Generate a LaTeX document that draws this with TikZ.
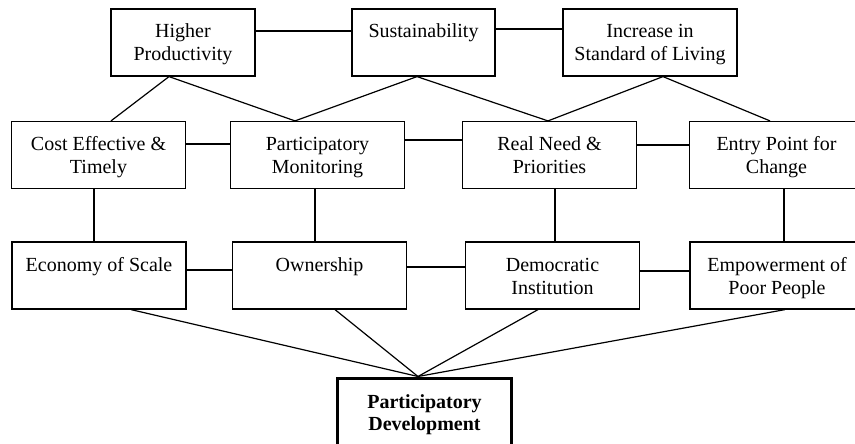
\documentclass[tikz,border=0pt]{standalone}
\usepackage{fontspec}
\setmainfont{Liberation Serif}
\usepackage{tikz}
\usetikzlibrary{calc}
\tikzset{
  box/.style={rectangle, draw, line width=1.2pt, minimum height=67pt, minimum width=174pt, align=center, inner sep=2pt, text height=39pt, text depth=2pt, font=\fontsize{20}{23}\selectfont},
  onerow/.style={text height=16pt, text depth=25pt},
  goal/.style={box, line width=3pt, font=\fontsize{20}{22}\selectfont\bfseries},
  link/.style={draw, line width=1.2pt}
  }

\begin{document}
\begin{tikzpicture}[x=1pt, y=1pt]
	\useasboundingbox (0,0) rectangle (855,-444);

	% Nodes
	\node[box, minimum width=144pt] (higher) at (183,-42.5) {Higher\\Productivity};
	\node[box, onerow, minimum width=143pt] (sust) at (423.5,-42.5) {Sustainability};
	\node[box] (living) at (650,-42.5) {Increase in\\Standard of Living};

	\node[box] (cost) at (98.5,-155) {Cost Effective \&\\Timely};
	\node[box] (monitor) at (317.5,-155) {Participatory\\Monitoring};
	\node[box] (need) at (549.5,-155) {Real Need \&\\Priorities};
	\node[box] (entry) at (776.5,-155) {Entry Point for\\Change};

	\node[box, onerow] (scale) at (99,-275.5) {Economy of Scale};
	\node[box, onerow] (owner) at (319.5,-275.5) {Ownership};
	\node[box] (demo) at (552.5,-275.5) {Democratic\\Institution};
	\node[box] (empower) at (777,-275.5) {Empowerment of\\Poor People};

	\node[goal] (partdev) at (424.5,-411.5) {Participatory\\Development};

	% Lines between boxes of a row
	\draw [link] ([yshift=11.5pt]higher.east) -- ([yshift=11.5pt]higher.east -| sust.west);
	\draw [link] ([yshift=13.5pt]sust.east) -- ([yshift=13.5pt]sust.east -| living.west);

	\draw [link] ([yshift=11pt]cost.east) -- ([yshift=11pt]cost.east -| monitor.west);
	\draw [link] ([yshift=15pt]monitor.east) -- ([yshift=15pt]monitor.east -| need.west);
	\draw [link] ([yshift=10pt]need.east) -- ([yshift=10pt]need.east -| entry.west);

	\draw [link] ([yshift=5.5pt]scale.east) -- ([yshift=5.5pt]scale.east -| owner.west);
	\draw [link] ([yshift=8.5pt]owner.east) -- ([yshift=8.5pt]owner.east -| demo.west);
	\draw [link] ([yshift=4.5pt]demo.east) -- ([yshift=4.5pt]demo.east -| empower.west);

	% Top row to middle row
	\draw [link] ([xshift=12.5pt]cost.north) -- ([xshift=-14pt]higher.south) -- ([xshift=-22.5pt]monitor.north);
	\draw [link] ([xshift=-22.5pt]monitor.north) -- ([xshift=-6.5pt]sust.south) -- ([xshift=-1.5pt]need.north);
	\draw [link] ([xshift=-1.5pt]need.north) -- ([xshift=13pt]living.south) -- ([xshift=-6.5pt]entry.north);

	% Middle row to bottom row
	\draw [link] ([xshift=-4.5pt]cost.south) -- ([xshift=-4.5pt]cost.south |- scale.north);
	\draw [link] ([xshift=-2.5pt]monitor.south) -- ([xshift=-2.5pt]monitor.south |- owner.north);
	\draw [link] ([xshift=5.5pt]need.south) -- ([xshift=5.5pt]need.south |- demo.north);
	\draw [link] ([xshift=7.5pt]entry.south) -- ([xshift=7.5pt]entry.south |- empower.north);

	% Bottom row to the goal
	\draw [link] ([xshift=32pt]scale.south) -- ([xshift=-6.5pt]partdev.north);
	\draw [link] ([xshift=15.5pt]owner.south) -- ([xshift=-6.5pt]partdev.north);
	\draw [link] ([xshift=-14.5pt]demo.south) -- ([xshift=-6.5pt]partdev.north);
	\draw [link] ([xshift=8pt]empower.south) -- ([xshift=-6.5pt]partdev.north);
\end{tikzpicture}
\end{document}
